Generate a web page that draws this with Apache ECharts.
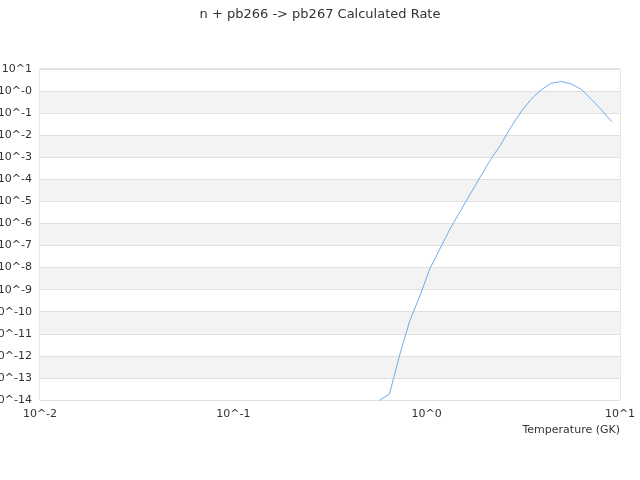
<!DOCTYPE html>
<html>
<head>
<meta charset="utf-8">
<script src="https://cdn.jsdelivr.net/npm/echarts@6/dist/echarts.min.js"></script>
<style>html,body{margin:0;padding:0;background:#fff}#c{width:640px;height:480px}</style>
</head>
<body>
<div id="c"></div>
<script>
var temperatures = [0.505, 0.570, 0.642, 0.725, 0.817, 0.922, 1.04, 1.17, 1.32, 1.49, 1.68, 1.90, 2.14, 2.41, 2.72, 3.07, 3.46, 3.90, 4.40, 4.97, 5.60, 6.32, 7.12, 8.03, 9.06];
var rates = [5e-15, 9.6e-15, 1.87e-14, 1.09e-12, 3.80e-11, 5.16e-10, 9.10e-9, 6.97e-8, 5.61e-7, 3.48e-6, 2.16e-5, 1.34e-4, 7.76e-4, 3.6e-3, 2.23e-2, 0.112, 0.415, 1.12, 2.25, 2.71, 2.09, 1.18, 0.415, 0.139, 0.0409];
var xTickLabels = {"-2": "10^-2", "-1": "10^-1", "0": "10^0", "1": "10^1"};
var yTickLabels = {"1": "10^1", "0": "10^-0", "-1": "10^-1", "-2": "10^-2", "-3": "10^-3", "-4": "10^-4", "-5": "10^-5", "-6": "10^-6", "-7": "10^-7", "-8": "10^-8", "-9": "10^-9", "-10": "10^-10", "-11": "10^-11", "-12": "10^-12", "-13": "10^-13", "-14": "10^-14"};
var titleText = "n + pb266 -> pb267 Calculated Rate";
var xName = "Temperature (GK)";

var data = temperatures.map(function (t, i) { return [t, rates[i]]; });
function expOf(v) { return String(Math.round(Math.log10(v))); }

var chart = echarts.init(document.getElementById('c'));
chart.setOption({
  animation: false,
  title: {
    text: titleText, left: 'center', top: 3,
    textStyle: {fontFamily: 'DejaVu Sans', fontSize: 13, fontWeight: 'normal', color: '#333'}
  },
  grid: {left: 40, right: 20, top: 69, bottom: 80, show: true, borderColor: '#ccc', borderWidth: 1,
    containLabel: false, outerBoundsMode: 'none'},
  xAxis: {
    type: 'log', logBase: 10, min: 0.01, max: 10, interval: 1,
    name: xName, nameLocation: 'end', nameGap: 0,
    nameTextStyle: {fontFamily: 'DejaVu Sans', fontSize: 11, color: '#333', align: 'right', verticalAlign: 'top', padding: [25, 0, 0, 0]},
    axisLine: {show: false}, axisTick: {show: false}, splitLine: {show: false},
    axisLabel: {fontFamily: 'DejaVu Sans', fontSize: 11, color: '#333', margin: 9,
      formatter: function (v) { return xTickLabels[expOf(v)] || ''; }}
  },
  yAxis: {
    type: 'log', logBase: 10, min: 1e-14, max: 10, interval: 1,
    axisLine: {show: false}, axisTick: {show: false},
    splitLine: {show: true, lineStyle: {color: '#e0e0e0'}},
    splitArea: {show: true, areaStyle: {color: ['#ffffff', '#f3f3f3']}},
    axisLabel: {fontFamily: 'DejaVu Sans', fontSize: 11, color: '#333', margin: 8,
      formatter: function (v) { return yTickLabels[expOf(v)] || ''; }}
  },
  series: [{
    type: 'line', data: data, showSymbol: false, symbol: 'none', clip: true,
    lineStyle: {color: '#6aaef0', width: 1}
  }]
});
</script>
</body>
</html>
